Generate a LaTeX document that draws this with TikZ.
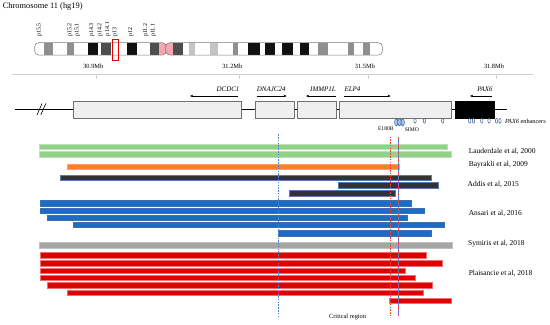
\documentclass[tikz,border=0pt]{standalone}
\usepackage{fontspec}
\setmainfont{Liberation Serif}
\usetikzlibrary{arrows.meta}
\definecolor{bmid}{HTML}{8F8F8F}
\definecolor{bdark}{HTML}{4D4D4D}
\definecolor{blight}{HTML}{C4C4C4}
\definecolor{bblack}{HTML}{111111}
\definecolor{bpink}{HTML}{F4A7B0}
\definecolor{chrgray}{HTML}{7A7A7A}
\definecolor{axgray}{HTML}{CFCFCF}
\definecolor{boxfill}{HTML}{EFEFEF}
\definecolor{boxdraw}{HTML}{707070}
\definecolor{enhblue}{HTML}{2F4F86}
\definecolor{enhlight}{HTML}{A9C8E8}
\definecolor{cgreen}{HTML}{93D08A}
\definecolor{cgreenb}{HTML}{B9E3B2}
\definecolor{corange}{HTML}{FF7F27}
\definecolor{corangeb}{HTML}{FFA060}
\definecolor{cdark}{HTML}{333333}
\definecolor{cdarkb}{HTML}{5A7AB0}
\definecolor{cblue}{HTML}{1A6CC4}
\definecolor{cblueb}{HTML}{3D6FB0}
\definecolor{cgray}{HTML}{A6A6A6}
\definecolor{cred}{HTML}{E00000}
\definecolor{credb}{HTML}{F07070}
\definecolor{lblue}{HTML}{4A86D0}
\definecolor{lred}{HTML}{F04040}
\begin{document}
\begin{tikzpicture}[x=1bp,y=-1bp,
  bandlbl/.style={font=\fontsize{6}{6.5}\selectfont, rotate=90, anchor=west, inner sep=0pt},
  axlbl/.style={font=\fontsize{6.4}{7}\selectfont, inner sep=0pt},
  genebox/.style={draw=boxdraw, fill=boxfill, line width=0.5pt, rectangle, inner sep=0pt, minimum height=17.3bp},
  genelbl/.style={font=\itshape\fontsize{7}{8}\selectfont, inner sep=0pt},
  genearrow/.style={line width=0.5pt, -{Stealth[length=3.2pt,width=2.6pt]}},
  enh/.style={draw=enhblue, fill=white, line width=0.45pt},
  enhl/.style={draw=enhblue, fill=enhlight, line width=0.45pt},
  smalllbl/.style={font=\fontsize{5.6}{6}\selectfont, inner sep=0pt},
  studylbl/.style={font=\fontsize{7.5}{8.5}\selectfont, anchor=west, inner sep=0pt},
  gbar/.style={fill=cgreen, draw=cgreenb, line width=0.4pt},
  obar/.style={fill=corange, draw=corangeb, line width=0.4pt},
  kbar/.style={fill=cdark, draw=cdarkb, line width=0.4pt},
  ubar/.style={fill=cblue, draw=cblueb, line width=0.4pt},
  ybar/.style={fill=cgray, draw=cgray!70, line width=0.4pt},
  rbar/.style={fill=cred, draw=credb, line width=0.4pt},
  bdash/.style={draw=lblue, line width=0.6pt, dash pattern=on 1.6pt off 1.2pt},
  rdash/.style={draw=lred, line width=0.6pt, dash pattern=on 1.6pt off 1.2pt}
]
\useasboundingbox (0,0) rectangle (550,324);

% title
\node[anchor=west, inner sep=0pt, font=\fontsize{8.4}{9.5}\selectfont] (title) at (2.7,6.5) {Chromosome 11 (hg19)};

% band labels
\foreach \x/\t [count=\i] in {39.3/p15.5, 70/p15.2, 77.3/p15.1, 91.7/p14.3, 100/p14.2, 107.7/p 14.1, 115/p13, 130.7/p12, 145.7/p11.2, 153.3/p11.1}
  \node[bandlbl] (band\i) at (\x,37) {\t};

% chromosome left arm
\begin{scope}
\clip[rounded corners=4] (34.7,42.7) rectangle (166.3,55);
\fill[white] (34.7,42.7) rectangle (166.3,55);
\foreach \a/\b/\c in {44.3/53.3/bmid, 66.7/74/bmid, 88.3/98.3/bblack, 101/111/bdark, 126.7/136.7/bblack, 150/159.3/bdark, 159.3/167/bpink}
  \fill[\c] (\a,42.7) rectangle (\b,55);
\end{scope}
\draw[chrgray, line width=0.5pt, rounded corners=4] (34.7,42.7) rectangle (166.3,55);
% chromosome right arm
\begin{scope}
\clip[rounded corners=4] (165.7,42.7) rectangle (382.3,55);
\fill[white] (165.7,42.7) rectangle (382.3,55);
\foreach \a/\b/\c in {165/173.3/bpink, 173.3/182.7/bdark, 189.3/195/blight, 210/218.3/blight, 233.3/238.3/bmid, 248.3/260/bblack, 265/275/bblack, 282.3/293.3/bblack, 300/309.3/bblack, 318.3/327.7/bmid, 347.7/354.3/bmid, 363.3/370/bmid}
  \fill[\c] (\a,42.7) rectangle (\b,55);
\end{scope}
\draw[chrgray, line width=0.5pt, rounded corners=4] (165.7,42.7) rectangle (382.3,55);
% red highlight
\draw[red!90!black, line width=0.9pt] (112,39.5) rectangle (118.3,60.8);

% axis
\draw[axgray, line width=0.5pt] (11.7,74) -- (533.3,74);
\foreach \x/\lx/\t [count=\i] in {96.7/93.3/30.9Mb, 239/232.3/31.2Mb, 368.3/365/31.5Mb, 496.7/494/31.8Mb}{
  \draw[axgray, line width=0.5pt] (\x,74) -- (\x,78.5);
  \node[axlbl] (ax\i) at (\lx,66.7) {\t};
}

% gene track
\node[genebox, minimum width=168.4bp] (dcdc) at (157.5,109.6) {};
\node[genebox, minimum width=38.6bp] (dnaj) at (275,109.6) {};
\node[genebox, minimum width=39.5bp] (immp) at (316.95,109.6) {};
\node[genebox, minimum width=112.7bp] (elp) at (395.35,109.6) {};
\node[genebox, fill=black, draw=black, minimum width=39bp] (pax) at (474.5,109.6) {};
\coordinate (lend) at (15,109.6);
\coordinate (rend) at (506.7,109.6);
\draw[line width=0.8pt] (lend) -- (dcdc.west);
\draw[line width=0.8pt] (dcdc.east) -- (dnaj.west);
\draw[line width=0.8pt] (dnaj.east) -- (immp.west);
\draw[line width=0.8pt] (immp.east) -- (elp.west);
\draw[line width=0.8pt] (elp.east) -- (pax.west);
\draw[line width=0.8pt] (pax.east) -- (rend);
\draw[line width=0.6pt] (37,115) -- (42,103.5);
\draw[line width=0.6pt] (40.8,115) -- (45.8,103.5);

\node[genelbl] (ldcdc) at (228,89) {DCDC1};
\node[genelbl] (ldnaj) at (271.2,89) {DNAJC24};
\node[genelbl] (limmp) at (323,89) {IMMP1L};
\node[genelbl] (lelp) at (352.5,89) {ELP4};
\node[genelbl] (lpax) at (485,89) {PAX6};
\draw[genearrow] (237.7,96) -- (190,96);
\draw[genearrow] (256.7,96) -- (286.7,96);
\draw[genearrow] (336,96) -- (306,96);
\draw[genearrow] (344,96) -- (390.7,96);
\draw[genearrow] (492.3,96) -- (470,96);

% enhancers
\foreach \x in {396.3,399.5,402.7}
  \draw[enhl] (\x,122.3) ellipse (1.7 and 3.6);
\foreach \x in {415,424.5,442.7,469.7,473.5,481.8,489,496.6,500}
  \draw[enh] (\x,120.8) ellipse (1.2 and 2.4);
\node[smalllbl] (le180) at (385.8,129) {E180B};
\node[smalllbl] (lsimo) at (411.8,130) {SIMO};
\node[anchor=west, inner sep=0pt, font=\fontsize{6.3}{7}\selectfont] (lenh) at (505,121.7) {\textit{PAX6} enhancers};

% bars
\draw[gbar] (39.3,143.8) rectangle (447.3,149.3);
\draw[gbar] (39.3,151.5) rectangle (451,157.5);
\draw[obar] (66.7,164) rectangle (398.7,169.5);
\draw[kbar] (60.3,174.7) rectangle (431,180);
\draw[kbar] (338.5,182.3) rectangle (437.7,188);
\draw[kbar] (288.8,190.2) rectangle (395.3,195.8);
\draw[ubar] (40,200.3) rectangle (410.7,205.7);
\draw[ubar] (40,207.7) rectangle (424,213);
\draw[ubar] (47,214.8) rectangle (407,220.3);
\draw[ubar] (73,222) rectangle (444.3,227.6);
\draw[ubar] (278,230.3) rectangle (431,236);
\draw[ybar] (39.3,242.3) rectangle (451.7,248.3);
\draw[rbar] (40,252.5) rectangle (426,258.2);
\draw[rbar] (40,260.2) rectangle (441.7,265.8);
\draw[rbar] (40,267.7) rectangle (404.7,273.3);
\draw[rbar] (40,275) rectangle (414.7,280.6);
\draw[rbar] (47,282.2) rectangle (432.3,287.8);
\draw[rbar] (66.7,289.8) rectangle (422.7,295.4);
\draw[rbar] (389.3,297.7) rectangle (451.3,303.3);

% vertical markers
\draw[bdash] (278,134.3) -- (278,316);
\draw[rdash] (390,136.5) -- (390,316);
\draw[draw=lred, line width=0.6pt] (398.5,136.5) -- (398.5,316);
\draw[bdash] (398.5,136.5) -- (398.5,316);

% study labels
\node[studylbl] (s1) at (468.6,151.7) {Lauderdale et al, 2000};
\node[studylbl] (s2) at (468.6,164.3) {Bayrakli et al, 2009};
\node[studylbl] (s3) at (467.5,184.3) {Addis et al, 2015};
\node[studylbl] (s4) at (468.6,213.3) {Ansari et al, 2016};
\node[studylbl] (s5) at (468,244) {Symiris et al, 2018};
\node[studylbl] (s6) at (468.6,273.3) {Plaisancie et al, 2018};
\node[inner sep=0pt, font=\fontsize{6.4}{7}\selectfont] (crit) at (347.6,316.5) {Critical region};
\end{tikzpicture}
\end{document}
